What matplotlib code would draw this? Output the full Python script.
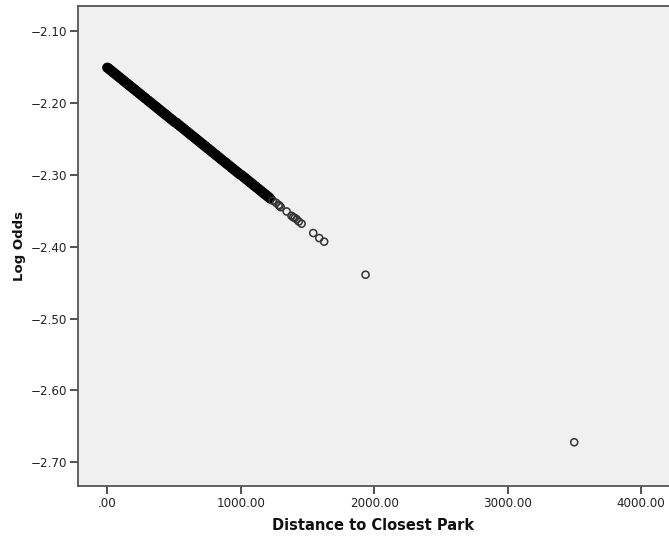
import matplotlib
matplotlib.use("Agg")
import matplotlib.pyplot as plt
from matplotlib.ticker import FuncFormatter

# distances (dense part of the cloud)
distance = [
    0, 10, 20, 30, 40, 50, 60, 70, 80, 90,
    100, 110, 120, 130, 140, 150, 160, 170, 180, 190,
    200, 210, 220, 230, 240, 250, 260, 270, 280, 290,
    300, 310, 320, 330, 340, 350, 360, 370, 380, 390,
    400, 410, 420, 430, 440, 450, 460, 470, 480, 490,
    500, 510, 520, 530, 540, 550, 560, 570, 580, 590,
    600, 610, 620, 630, 640, 650, 660, 670, 680, 690,
    700, 710, 720, 730, 740, 750, 760, 770, 780, 790,
    800, 810, 820, 830, 840, 850, 860, 870, 880, 890,
    900, 910, 920, 930, 940, 950, 960, 970, 980, 990,
    1000, 1010, 1020, 1030, 1040, 1050, 1060, 1070, 1080, 1090,
    1100, 1110, 1120, 1130, 1140, 1150, 1160, 1170, 1180, 1190,
    1200, 1210, 1220,
    # sparse tail
    1240, 1265, 1284, 1290, 1300, 1344, 1380, 1393, 1405, 1419,
    1435, 1456, 1543, 1588, 1625, 1935, 3498,
]
log_odds = [
    -2.151, -2.152, -2.154, -2.155, -2.157, -2.158, -2.160, -2.161, -2.163, -2.164,
    -2.166, -2.167, -2.169, -2.170, -2.172, -2.173, -2.175, -2.176, -2.178, -2.179,
    -2.181, -2.182, -2.184, -2.185, -2.187, -2.188, -2.190, -2.191, -2.193, -2.194,
    -2.196, -2.197, -2.199, -2.200, -2.202, -2.203, -2.205, -2.206, -2.208, -2.209,
    -2.211, -2.212, -2.214, -2.215, -2.217, -2.218, -2.220, -2.221, -2.223, -2.224,
    -2.226, -2.227, -2.228, -2.230, -2.231, -2.233, -2.234, -2.236, -2.237, -2.239,
    -2.240, -2.242, -2.243, -2.245, -2.246, -2.248, -2.249, -2.251, -2.252, -2.254,
    -2.255, -2.257, -2.258, -2.260, -2.261, -2.263, -2.264, -2.266, -2.267, -2.269,
    -2.270, -2.272, -2.273, -2.275, -2.276, -2.278, -2.279, -2.281, -2.282, -2.284,
    -2.285, -2.287, -2.288, -2.290, -2.291, -2.293, -2.294, -2.296, -2.297, -2.299,
    -2.300, -2.301, -2.303, -2.304, -2.306, -2.307, -2.309, -2.310, -2.312, -2.313,
    -2.315, -2.316, -2.318, -2.319, -2.321, -2.322, -2.324, -2.325, -2.327, -2.328,
    -2.330, -2.331, -2.333,
    -2.336, -2.339, -2.342, -2.343, -2.345, -2.351, -2.357, -2.359, -2.360, -2.362,
    -2.365, -2.368, -2.381, -2.388, -2.393, -2.439, -2.672,
]
x_ticks = [0, 1000, 2000, 3000, 4000]
y_ticks = [-2.70, -2.60, -2.50, -2.40, -2.30, -2.20, -2.10]

n_dense = 123  # first points overlap into a solid band

fig = plt.figure(figsize=(6.69, 5.40), dpi=100)
ax = fig.add_axes([0.1166, 0.1006, 0.8834, 0.8883])
ax.set_facecolor('#f0f0f0')

# thousands of overlapping rings in the original -> heavier outline here
ax.scatter(distance[:n_dense], log_odds[:n_dense], s=25, facecolors='none',
           edgecolors='#000000', linewidths=2.3, zorder=3)
ax.scatter(distance[n_dense:], log_odds[n_dense:], s=26, facecolors='none',
           edgecolors='#333333', linewidths=1.1, zorder=3)

ax.set_xlim(-219, 4208)
ax.set_ylim(-2.7324, -2.0652)
ax.set_xticks(x_ticks)
ax.set_yticks(y_ticks)
ax.xaxis.set_major_formatter(FuncFormatter(lambda v, p: '.00' if v == 0 else '%.2f' % v))
ax.yaxis.set_major_formatter(FuncFormatter(lambda v, p: ('%.2f' % v).replace('-', '\u2212')))

ax.tick_params(axis='both', direction='out', length=6, width=1.2, color='#333333',
               labelsize=8.6, labelcolor='#222222', pad=2)

for side in ['left', 'bottom', 'top']:
    ax.spines[side].set_color('#555555')
    ax.spines[side].set_linewidth(1.3)
ax.spines['right'].set_visible(False)

ax.set_xlabel('Distance to Closest Park', fontsize=10.5, fontweight='bold',
              color='#111111', labelpad=6)
ax.set_ylabel('Log Odds', fontsize=9.5, fontweight='bold', color='#111111',
              labelpad=3)

fig.savefig('out.png', dpi=100)
